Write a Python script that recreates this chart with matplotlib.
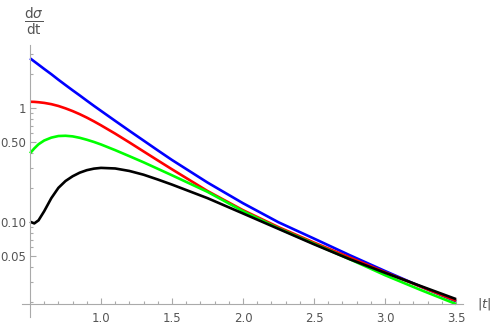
import numpy as np
import matplotlib.pyplot as plt
from matplotlib.ticker import FixedLocator, NullFormatter

# |t| sample points
t = [0.5, 0.53, 0.56, 0.6, 0.65, 0.7, 0.75, 0.8, 0.85, 0.9, 0.95, 1.0,
     1.1, 1.2, 1.3, 1.4, 1.5, 1.75, 2.0, 2.25, 2.5, 2.75, 3.0, 3.25, 3.5]

# d sigma / dt for the four curves
blue = [2.73, 2.56, 2.40, 2.20, 1.98, 1.77, 1.59, 1.43, 1.29, 1.16, 1.045, 0.944,
        0.771, 0.631, 0.518, 0.425, 0.350, 0.222, 0.1462, 0.0995, 0.0716, 0.0513,
        0.0372, 0.0272, 0.0202]
red = [1.135, 1.132, 1.124, 1.109, 1.081, 1.042, 0.993, 0.940, 0.883, 0.824, 0.764, 0.705,
       0.596, 0.499, 0.416, 0.347, 0.290, 0.187, 0.127, 0.0902, 0.0661, 0.0490,
       0.0363, 0.0272, 0.0204]
green = [0.401, 0.442, 0.481, 0.519, 0.550, 0.568, 0.571, 0.564, 0.548, 0.527, 0.504, 0.479,
         0.427, 0.378, 0.334, 0.293, 0.257, 0.184, 0.1245, 0.0881, 0.0646, 0.0473,
         0.0342, 0.0254, 0.0191]
black = [0.1007, 0.0973, 0.1035, 0.1245, 0.162, 0.1995, 0.229, 0.252, 0.271, 0.285, 0.294, 0.2985,
         0.295, 0.2805, 0.260, 0.236, 0.213, 0.162, 0.1189, 0.0871, 0.0638, 0.0473,
         0.0359, 0.0275, 0.0211]

series = [(blue, '#0000ff'), (red, '#ff0000'), (green, '#00ff00'), (black, '#000000')]

y_major = [0.05, 0.1, 0.5, 1]
y_labels = ['0.05', '0.10', '0.50', '1']
x_major = [1.0, 1.5, 2.0, 2.5, 3.0, 3.5]

axis_gray = '#aaaaaa'
text_gray = '#555555'

fig = plt.figure(figsize=(4.98, 3.27), dpi=100)
ax = fig.add_axes([0.0442, 0.0306, 0.8855, 0.8318])

for vals, c in series:
    ax.plot(t, vals, color=c, lw=1.9, solid_capstyle='butt')

ax.set_yscale('log')
ax.set_xlim(0.4437, 3.549)
ax.set_ylim(0.0147, 3.57)

# Mathematica-like axes crossing at (0.5, ymin)
ax.spines['top'].set_visible(False)
ax.spines['right'].set_visible(False)
ax.spines['left'].set_position(('data', 0.5))
ax.spines['bottom'].set_position(('data', 0.0192))
for s in ('left', 'bottom'):
    ax.spines[s].set_color(axis_gray)
    ax.spines[s].set_linewidth(0.8)

ax.xaxis.set_major_locator(FixedLocator(x_major))
ax.set_xticklabels([f'{v:.1f}' for v in x_major])
ax.xaxis.set_minor_locator(FixedLocator(np.round(np.arange(0.6, 3.55, 0.1), 2)))

ax.yaxis.set_major_locator(FixedLocator(y_major))
ax.set_yticklabels(y_labels)
y_minor = [0.02, 0.03, 0.04, 0.06, 0.07, 0.08, 0.09,
           0.2, 0.3, 0.4, 0.6, 0.7, 0.8, 0.9, 2, 3]
ax.yaxis.set_minor_locator(FixedLocator(y_minor))
ax.yaxis.set_minor_formatter(NullFormatter())

ax.tick_params(which='both', direction='in', color=axis_gray, labelcolor=text_gray,
               labelsize=8.5, width=0.8)
ax.tick_params(which='major', length=4.5)
ax.tick_params(which='minor', length=2.5)
ax.tick_params(axis='x', pad=6)
ax.tick_params(axis='y', pad=3)

fig.text(0.068, 0.933, r'$\frac{\mathrm{d}\sigma}{\mathrm{dt}}$', ha='center', va='center',
         color=text_gray, fontsize=14)
fig.text(0.973, 0.07, r'$|t|$', ha='center', va='center', color=text_gray, fontsize=9.5)

fig.savefig('out.png', dpi=100)
